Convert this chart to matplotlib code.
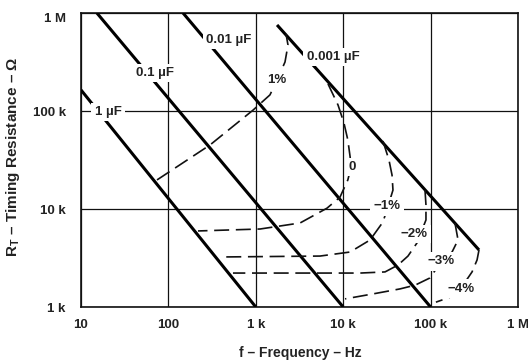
import matplotlib
matplotlib.use('Agg')
import matplotlib.pyplot as plt

plt.rcParams['font.family'] = ['Liberation Sans', 'DejaVu Sans']
plt.rcParams['mathtext.fontset'] = 'custom'
plt.rcParams['mathtext.rm'] = 'Liberation Sans:bold'
plt.rcParams['mathtext.it'] = 'Liberation Sans:bold'
plt.rcParams['mathtext.bf'] = 'Liberation Sans:bold'

# ---- data ----
x_ticks = [10, 100, 1e3, 1e4, 1e5, 1e6]
x_tick_labels = ['10', '100', '1 k', '10 k', '100 k', '1 M']
y_ticks = [1e3, 1e4, 1e5, 1e6]
y_tick_labels = ['1 k', '10 k', '100 k', '1 M']

# timing capacitor lines (frequency Hz, resistance ohm)
cap_labels = ['1 µF', '0.1 µF', '0.01 µF', '0.001 µF']
cap_f = [[10, 1000], [15.2, 10000], [147, 100000], [1750, 358000]]
cap_r = [[164000, 1000], [1e6, 1000], [1e6, 1000], [755000, 3820]]
cap_label_f = [20.5, 70.3, 493, 7640]
cap_label_r = [97700, 244000, 530000, 356000]

# frequency-variation contours
var_labels = ['1%', '0', '\u22121%', '\u22122%', '\u22123%', '\u22124%']
var_f = [
    [74.1, 299, 929, 1452, 1750, 2158, 2335, 2218],
    [6700, 8730, 10200, 11300, 12000, 12300, 11300, 9180, 6530, 3210, 1120, 218],
    [28500, 33400, 36200, 37100, 32600, 28500, 20300, 12000, 5430, 410],
    [86300, 88500, 88500, 69800, 55100, 42400, 30100, 15600, 548],
    [190000, 206000, 176000, 131000, 98400, 66400, 44700, 21900, 10500],
    [358000, 340000, 298000, 223000, 167000, 115000],
]
var_r = [
    [19800, 45000, 102000, 146000, 207000, 316000, 471000, 611000],
    [189000, 115000, 75500, 50600, 34000, 26800, 19800, 13200, 10200, 7200, 6250, 5970],
    [49400, 31600, 22200, 15600, 10700, 7360, 4830, 3640, 3310, 3240],
    [15600, 11000, 7730, 4500, 3310, 2680, 2280, 2220, 2220],
    [7200, 4830, 3640, 2880, 1980, 1670, 1530, 1360, 1210],
    [3820, 3020, 2280, 1560, 1260, 1120],
]
var_label_f = [1750, 12600, 32000, 64600, 131000, 223000]
var_label_r = [207000, 26800, 10700, 5560, 2940, 1530]

# ---- figure ----
W, H = 528, 361
fig = plt.figure(figsize=(W / 100, H / 100), dpi=100)
ax = fig.add_axes([81 / W, 1 - 307 / H, 437 / W, 294 / H])
ax.set_xscale('log')
ax.set_yscale('log')
ax.set_xlim(10, 1e6)
ax.set_ylim(1e3, 1e6)
ax.set_xticks(x_ticks)
ax.set_xticklabels(x_tick_labels)
ax.set_yticks(y_ticks)
ax.set_yticklabels(y_tick_labels)
ax.minorticks_off()
ax.tick_params(length=0, labelsize=9.5, colors='#222222')
ax.tick_params(axis='x', pad=9)
ax.tick_params(axis='y', pad=11)
for lab in ax.get_xticklabels() + ax.get_yticklabels():
    lab.set_fontweight('bold')
ax.get_yticklabels()[-1].set_verticalalignment('top')
ax.set_axisbelow(True)
ax.grid(True, which='major', color='#111111', lw=0.9)
for s in ax.spines.values():
    s.set_linewidth(1.2)
    s.set_color('#111111')

for f, r in zip(cap_f, cap_r):
    ax.plot(f, r, color='black', lw=2.2, solid_capstyle='butt', zorder=3)

for f, r in zip(var_f, var_r):
    ax.plot(f, r, color='#111111', lw=1.2, ls=(0, (9, 4)), zorder=3)

box = dict(facecolor='white', edgecolor='none', pad=2.5)
for t, f, r in zip(cap_labels, cap_label_f, cap_label_r):
    ax.text(f, r, t, ha='center', va='center', fontsize=9.5, fontweight='bold',
            color='#222222', bbox=box, zorder=5)
for t, f, r in zip(var_labels, var_label_f, var_label_r):
    ax.text(f, r, t, ha='center', va='center', fontsize=9.5, fontweight='bold',
            color='#222222', bbox=box, zorder=5)

fig.text(300 / W, 1 - 353 / H, 'f \u2013 Frequency \u2013 Hz', ha='center', va='center',
         fontsize=10, fontweight='bold', color='#222222')
fig.text(13 / W, 1 - 157 / H, 'R$_\\mathrm{T}$ \u2013 Timing Resistance \u2013 \u03a9',
         ha='center', va='center', rotation=90, fontsize=11, fontweight='bold',
         color='#222222')

fig.savefig('out.png', dpi=100)
